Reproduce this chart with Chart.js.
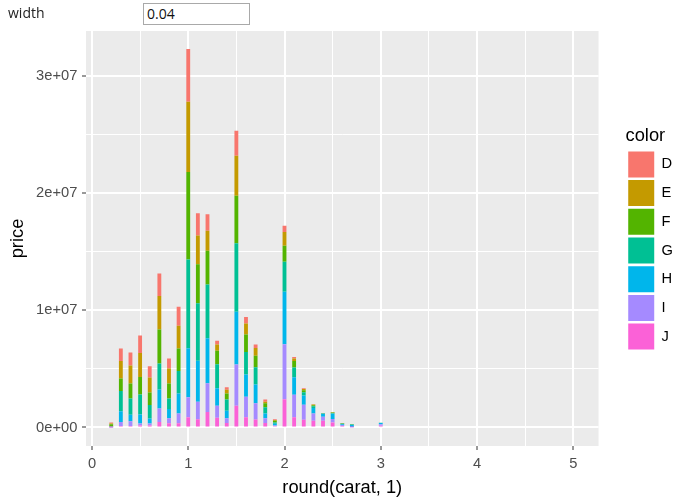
<!DOCTYPE html>
<html>
<head>
<meta charset="utf-8">
<script src="https://cdn.jsdelivr.net/npm/chart.js@4/dist/chart.umd.min.js"></script>
<style>
  html, body { margin: 0; padding: 0; background: #ffffff; }
  #wrap { position: relative; width: 683px; height: 501px; overflow: hidden; }
  #c { position: absolute; left: 0; top: 0; }
  #lbl { position: absolute; left: 8px; top: 3px; font: 14px "Open Sans", "Liberation Sans", Arial, sans-serif; color: #222; }
  #inp { position: absolute; left: 143px; top: 3px; width: 107px; height: 22px; box-sizing: border-box;
         border: 1px solid #a9a9a9; font: 14px "Open Sans", "Liberation Sans", Arial, sans-serif; color: #111;
         padding: 0 0 0 3px; line-height: 20px; background: #fff; }
</style>
</head>
<body>
<div id="wrap">
  <canvas id="c" width="683" height="501"></canvas>
  <div id="lbl">width</div>
  <div id="inp">0.04</div>
</div>
<script>
// ---- data ----
const categories = [0.2,0.3,0.4,0.5,0.6,0.7,0.8,0.9,1.0,1.1,1.2,1.3,1.4,1.5,1.6,1.7,1.8,1.9,2.0,2.1,2.2,2.3,2.4,2.5,2.6,2.7,3.0];
const colorLevels = ["D","E","F","G","H","I","J"];
const priceD = [85000,1075000,1110000,1493000,975000,1920000,847000,1621000,4497000,1903000,1408000,305000,212000,2134000,542000,305000,195000,68000,525000,136000,68000,25000,5000,8000,8000,3000,0];
const priceE = [59000,1476000,1536000,2048000,1280000,2859000,1280000,1928000,5983000,2449000,1707000,542000,322000,3414000,932000,661000,127000,68000,1178000,203000,119000,59000,8000,17000,8000,8000,0];
const priceF = [195000,1084000,1263000,1493000,1066000,2901000,1272000,1920000,7467000,3337000,2884000,1161000,508000,4062000,1502000,983000,339000,144000,1365000,559000,153000,85000,17000,76000,42000,34000,8000];
const priceG = [51000,1715000,1400000,1707000,1152000,2218000,915000,1920000,7595000,4898000,4591000,2048000,966000,5846000,1911000,1468000,551000,110000,2560000,839000,297000,153000,34000,42000,51000,42000,8000];
const priceH = [17000,924000,559000,763000,424000,1621000,788000,1707000,4182000,3499000,3841000,1493000,644000,4497000,1920000,1604000,407000,144000,4489000,1493000,780000,483000,263000,449000,59000,161000,110000];
const priceI = [8000,331000,398000,169000,169000,1152000,424000,847000,1707000,1502000,2441000,1015000,398000,3516000,1749000,1383000,398000,68000,4694000,1920000,1280000,619000,339000,297000,85000,25000,136000];
const priceJ = [8000,136000,127000,169000,169000,466000,356000,356000,864000,695000,1331000,831000,381000,1861000,864000,678000,381000,102000,2407000,873000,661000,568000,568000,424000,127000,25000,144000];

const xMajorTicks = [0,1,2,3,4,5];
const xMinorTicks = [0.5,1.5,2.5,3.5,4.5];
const yMajorTicks = [0,10000000,20000000,30000000];
const yMinorTicks = [5000000,15000000,25000000];

// ---- styling ----
const palette = {D:"#F8766D",E:"#C49A00",F:"#53B400",G:"#00C094",H:"#00B6EB",I:"#A58AFF",J:"#FB61D7"};
const seriesByLevel = {D:priceD,E:priceE,F:priceF,G:priceG,H:priceH,I:priceI,J:priceJ};
const FONT = "'Liberation Sans', Arial, sans-serif";

function sci(v){
  if (v === 0) return "0e+00";
  const e = Math.floor(Math.log10(Math.abs(v)) + 1e-9);
  const m = Math.round(v / Math.pow(10, e));
  return m + "e" + (e < 0 ? "-" : "+") + String(Math.abs(e)).padStart(2, "0");
}

// stacking order: J at bottom ... D on top (ggplot order)
const datasets = colorLevels.slice().reverse().map(lv => ({
  label: lv,
  data: categories.map((c, i) => ({x: c, y: seriesByLevel[lv][i]})),
  backgroundColor: palette[lv],
  borderWidth: 0,
  barPercentage: 0.4,
  categoryPercentage: 1.0
}));

const panelBg = {
  id: "panelBg",
  beforeDraw(chart){
    const {ctx, chartArea: a} = chart;
    ctx.save();
    ctx.fillStyle = "#EBEBEB";
    ctx.fillRect(a.left, a.top, a.right - a.left, a.bottom - a.top);
    ctx.restore();
  }
};

const isIn = (arr, v) => arr.some(t => Math.abs(t - v) < 1e-6);
const tv = c => (c && c.tick) ? c.tick.value : NaN;

new Chart(document.getElementById("c"), {
  type: "bar",
  data: { datasets },
  plugins: [panelBg],
  options: {
    responsive: false,
    animation: false,
    devicePixelRatio: 1,
    layout: { padding: { left: 5, top: 31, right: 0, bottom: 0 } },
    scales: {
      x: {
        type: "linear",
        stacked: true,
        offset: false,
        min: -0.062,
        max: 5.262,
        afterBuildTicks(s){ s.ticks = xMajorTicks.concat(xMinorTicks).sort((a,b)=>a-b).map(v => ({value: v})); },
        afterFit(s){ s.height = 55; },
        border: { display: false },
        grid: {
          offset: false,
          color: "#FFFFFF",
          lineWidth: c => isIn(xMajorTicks, tv(c)) ? 2 : 1,
          tickColor: c => isIn(xMajorTicks, tv(c)) ? "#333333" : "rgba(0,0,0,0)",
          tickLength: 4,
          tickWidth: 1
        },
        ticks: {
          autoSkip: false,
          maxRotation: 0,
          padding: 5,
          color: "#4D4D4D",
          font: { family: FONT, size: 14.7 },
          callback: v => isIn(xMajorTicks, v) ? String(v) : ""
        },
        title: {
          display: true,
          text: "round(carat, 1)",
          color: "#000000",
          font: { family: FONT, size: 18.3 },
          padding: { top: 0, bottom: 2.5 }
        }
      },
      y: {
        type: "linear",
        stacked: true,
        min: -1580000,
        max: 33840000,
        afterBuildTicks(s){ s.ticks = yMajorTicks.concat(yMinorTicks).sort((a,b)=>a-b).map(v => ({value: v})); },
        afterFit(s){ s.width = 81; },
        border: { display: false },
        grid: {
          color: "#FFFFFF",
          lineWidth: c => isIn(yMajorTicks, tv(c)) ? 2 : 1,
          tickColor: c => isIn(yMajorTicks, tv(c)) ? "#333333" : "rgba(0,0,0,0)",
          tickLength: 4,
          tickWidth: 1
        },
        ticks: {
          autoSkip: false,
          padding: 4.7,
          color: "#4D4D4D",
          font: { family: FONT, size: 14.7 },
          callback: v => isIn(yMajorTicks, v) ? sci(v) : ""
        },
        title: {
          display: true,
          text: "price",
          color: "#000000",
          font: { family: FONT, size: 18.3 },
          padding: { top: 2, bottom: 0 }
        }
      },
      gap: {
        type: "linear",
        position: "right",
        display: true,
        afterFit(s){ s.width = 27; },
        border: { display: false },
        grid: { display: false, drawTicks: false },
        ticks: { display: false }
      }
    },
    plugins: {
      tooltip: { enabled: false },
      legend: {
        display: true,
        position: "right",
        align: "center",
        fullSize: false,
        reverse: true,
        title: {
          display: true,
          text: "color",
          position: "start",
          color: "#000000",
          font: { family: FONT, size: 18.3 },
          padding: { top: 2, bottom: 0 }
        },
        labels: {
          boxWidth: 26,
          boxHeight: 26,
          padding: 2.7,
          color: "#000000",
          font: { family: FONT, size: 14.7 }
        }
      }
    }
  }
});
</script>
</body>
</html>
